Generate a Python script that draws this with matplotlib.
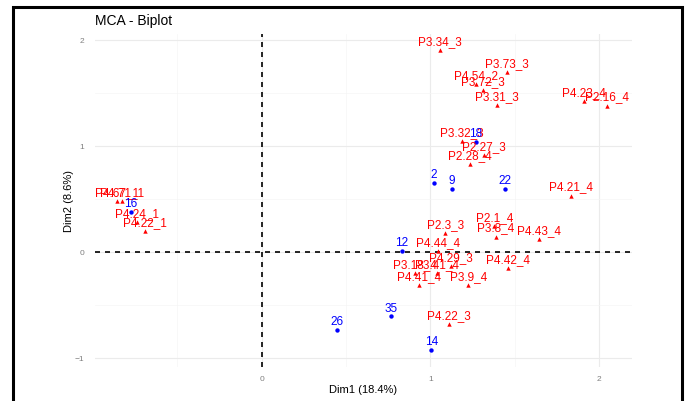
import numpy as np
import matplotlib
matplotlib.use("Agg")
import matplotlib.pyplot as plt
from matplotlib.patches import Rectangle

plt.rcParams['font.family'] = ['Liberation Sans', 'DejaVu Sans']

# individuals (blue points)
ind_names = ['16', '18', '2', '9', '22', '12', '26', '35', '14']
ind_x = [-0.775, 1.27, 1.02, 1.13, 1.444, 0.833, 0.448, 0.769, 1.006]
ind_y = [0.377, 1.04, 0.65, 0.594, 0.594, 0.01, -0.736, -0.61, -0.93]

# variable categories (red triangles)
var_names = ['P4.67_1', 'P4.71_1', 'P4.24_1', 'P4.22_1',
             'P3.34_3', 'P3.73_3', 'P4.54_2', 'P3.72_3', 'P3.31_3',
             'P4.23_4', 'P2.16_4', 'P3.32_3', 'P2.27_3', 'P2.28_4',
             'P4.21_4', 'P2.3_3', 'P2.1_4', 'P3.8_4', 'P4.43_4',
             'P4.44_4', 'P4.29_3', 'P3.18_4', 'P3.41_4', 'P4.41_4',
             'P3.9_4', 'P4.42_4', 'P4.22_3']
var_x = [-0.855, -0.83, -0.74, -0.69,
         1.059, 1.456, 1.27, 1.31, 1.396,
         1.909, 2.05, 1.187, 1.318, 1.233,
         1.834, 1.089, 1.38, 1.39, 1.645,
         1.045, 1.124, 0.91, 1.04, 0.935,
         1.225, 1.46, 1.11]
var_y = [0.48, 0.475, 0.28, 0.20,
         1.908, 1.70, 1.58, 1.53, 1.387,
         1.42, 1.38, 1.044, 0.909, 0.83,
         0.531, 0.175, 0.245, 0.144, 0.123,
         0.006, -0.13, -0.20, -0.20, -0.31,
         -0.31, -0.15, -0.68]

dim1_pct = 18.4
dim2_pct = 8.6

fig = plt.figure(figsize=(6.89, 4.02), dpi=100)
ax = fig.add_axes([0.138, 0.085, 0.779, 0.828])

ax.set_xlim(-0.987, 2.195)
ax.set_ylim(-1.085, 2.055)

ax.set_xticks([0, 1, 2])
ax.set_yticks([-1, 0, 1, 2])
ax.set_xticks([-0.5, 0.5, 1.5], minor=True)
ax.set_yticks([-0.5, 0.5, 1.5], minor=True)
ax.grid(True, which='major', color='#EBEBEB', lw=0.8)
ax.grid(True, which='minor', color='#F5F5F5', lw=0.5)
ax.set_axisbelow(True)
for s in ax.spines.values():
    s.set_visible(False)
ax.tick_params(which='both', length=0, labelsize=6, labelcolor='#7F7F7F')
ax.tick_params(axis='x', pad=6)
ax.tick_params(axis='y', pad=8)

ax.axhline(0, color='black', lw=1.2, ls=(0, (3, 3)), zorder=1)
ax.axvline(0, color='black', lw=1.2, ls=(0, (3, 3)), zorder=1)

ax.scatter(var_x, var_y, marker='^', s=10, color='#FF0000', zorder=3, linewidths=0)
ax.scatter(ind_x, ind_y, marker='o', s=10, color='#0000FF', zorder=3, linewidths=0)

for name, x, y in zip(var_names, var_x, var_y):
    ax.annotate(name, (x, y), xytext=(0, 4.3), textcoords='offset points',
                ha='center', va='baseline', fontsize=8.5, color='#FF0000', zorder=4)
for name, x, y in zip(ind_names, ind_x, ind_y):
    ax.annotate(name, (x, y), xytext=(0, 4.3), textcoords='offset points',
                ha='center', va='baseline', fontsize=8.5, color='#0000FF', zorder=4)

ax.set_xlabel(f'Dim1 ({dim1_pct}%)', fontsize=8, labelpad=1)
ax.set_ylabel(f'Dim2 ({dim2_pct}%)', fontsize=8, labelpad=0)
fig.text(0.138, 0.948, 'MCA - Biplot', fontsize=10, ha='left', va='center')

# black frame around the figure
fig.patches.append(Rectangle((13 / 689, -0.05), (682 - 13) / 689, 1.05 - 8 / 402,
                             transform=fig.transFigure, fill=False,
                             edgecolor='black', lw=2.2))

fig.savefig('out.png', dpi=100)
